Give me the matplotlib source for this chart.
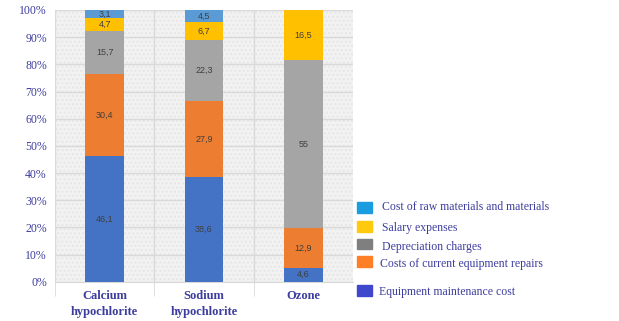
import matplotlib
matplotlib.use("Agg")
import matplotlib.pyplot as plt
from matplotlib.patches import Rectangle
import numpy as np

categories = ["Calcium\nhypochlorite", "Sodium\nhypochlorite", "Ozone"]
series_names = ["Equipment maintenance cost", "Costs of current equipment repairs",
                "Depreciation charges", "Salary expenses",
                "Cost of raw materials and materials"]
maintenance = [46.1, 38.6, 4.6]
repairs = [30.4, 27.9, 12.9]
depreciation = [15.7, 22.3, 55]
salary = [4.7, 6.7, 16.5]
raw_materials = [3.1, 4.5, 0]

bar_colors = ["#4472c4", "#ed7d31", "#a5a5a5", "#ffc000", "#5b9bd5"]
legend_colors = ["#3f48cc", "#ff7f27", "#7f7f7f", "#ffc90e", "#1a9de0"]
text_color = "#3d3d9e"

series = np.array([maintenance, repairs, depreciation, salary, raw_materials], dtype=float)
shares = series / series.sum(axis=0) * 100

fig = plt.figure(figsize=(6.19, 3.21), dpi=100)
ax = fig.add_axes([0.089, 0.122, 0.481, 0.847])
ax.set_facecolor("#f2f2f2")
ax.patch.set_hatch("....")
ax.patch.set_edgecolor("#e6e6e6")
ax.patch.set_linewidth(0)

x = np.arange(len(categories))
bottom = np.zeros(len(categories))
for i in range(len(series)):
    ax.bar(x, shares[i], 0.39, bottom=bottom, color=bar_colors[i], zorder=3)
    for j in range(len(categories)):
        if series[i, j] > 0:
            lbl = f"{series[i, j]:g}".replace(".", ",")
            ax.text(x[j], bottom[j] + shares[i, j] / 2, lbl, ha="center", va="center",
                    fontsize=6.5, color="#404040", family="Liberation Sans", zorder=4)
    bottom += shares[i]

ax.set_xlim(-0.5, 2.5)
ax.set_ylim(0, 100)
ax.set_yticks(np.arange(0, 101, 10))
ax.set_yticklabels([f"{v}%" for v in range(0, 101, 10)], family="Liberation Serif",
                   fontsize=8.5, color=text_color)
ax.set_xticks(x)
ax.set_xticklabels(categories, family="Liberation Serif", fontsize=9,
                   fontweight="bold", color=text_color, linespacing=1.45)
ax.set_xticks([-0.5, 0.5, 1.5], minor=True)
ax.tick_params(axis="x", which="major", length=0, pad=6)
ax.tick_params(axis="x", which="minor", length=10, color="#d9d9d9")
ax.tick_params(axis="y", length=0, pad=6)
ax.grid(axis="y", color="#d9d9d9", linewidth=1, zorder=0)
ax.grid(axis="x", which="minor", color="#d9d9d9", linewidth=1, zorder=0)
for side in ["top", "left", "right"]:
    ax.spines[side].set_visible(False)
ax.spines["bottom"].set_color("#d9d9d9")

# legend drawn by hand to keep the uneven spacing of the original
box_y = [0.095, 0.185, 0.240, 0.293, 0.354]
text_y = [0.090, 0.178, 0.231, 0.290, 0.355]
text_x = [0.612, 0.614, 0.617, 0.617, 0.617]
for name, color, by, ty, tx in zip(series_names, legend_colors, box_y, text_y, text_x):
    fig.patches.append(Rectangle((0.577, by - 0.017), 0.024, 0.034, color=color,
                                 transform=fig.transFigure, figure=fig))
    fig.text(tx, ty, name, family="Liberation Serif", fontsize=8.5,
             color=text_color, va="center")

fig.savefig("out.png", dpi=100)
